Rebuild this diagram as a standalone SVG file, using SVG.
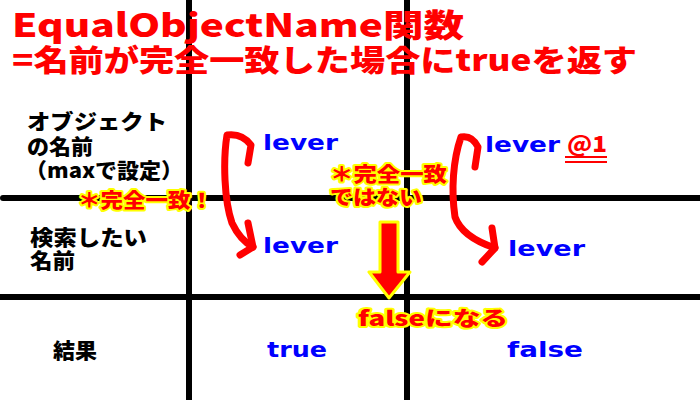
<svg xmlns="http://www.w3.org/2000/svg" width="700" height="400" viewBox="0 0 700 400">
<style>
text{font-family:"Noto Sans CJK JP","DejaVu Sans",sans-serif;font-weight:900}
.title{fill:#ff0000}
.lbl{fill:#000;font-size:21px}
.val{fill:#0000ff;font-family:"DejaVu Sans","Noto Sans CJK JP",sans-serif;font-weight:bold;font-size:22px}
.note{fill:#ff0000;stroke:#ffff00;stroke-width:4;paint-order:stroke;stroke-linejoin:round;font-size:20px}
.grid{stroke:#000;stroke-width:6;stroke-linecap:round}
.curl{fill:none;stroke:#ff0000;stroke-width:7;stroke-linecap:round;stroke-linejoin:round}
</style>
<rect width="700" height="400" fill="#fff"/>
<g id="grid">
<line class="grid" x1="189" y1="0" x2="189" y2="400"/>
<line class="grid" x1="407" y1="0" x2="407" y2="400"/>
<line class="grid" x1="3" y1="198" x2="700" y2="198"/>
<line class="grid" x1="0" y1="297" x2="700" y2="297"/>
</g>
<g id="title">
<text class="title" x="12" y="37" font-size="32" textLength="452" lengthAdjust="spacingAndGlyphs">EqualObjectName関数</text>
<text class="title" x="12" y="71" font-size="30" textLength="625" lengthAdjust="spacingAndGlyphs">=名前が完全一致した場合にtrueを返す</text>
</g>
<g id="row-labels">
<text class="lbl" x="27" y="129" textLength="140" lengthAdjust="spacingAndGlyphs">オブジェクト</text>
<text class="lbl" x="27" y="154" textLength="66" lengthAdjust="spacingAndGlyphs">の名前</text>
<text class="lbl" x="25" y="178" textLength="158" lengthAdjust="spacingAndGlyphs">（maxで設定）</text>
<text class="lbl" x="30" y="245" textLength="117" lengthAdjust="spacingAndGlyphs">検索したい</text>
<text class="lbl" x="30" y="268" textLength="45" lengthAdjust="spacingAndGlyphs">名前</text>
<text class="lbl" x="53" y="358" textLength="44" lengthAdjust="spacingAndGlyphs">結果</text>
</g>
<g id="values">
<text class="val" x="263" y="150" textLength="75" lengthAdjust="spacingAndGlyphs">lever</text>
<text class="val" x="263" y="253" textLength="75" lengthAdjust="spacingAndGlyphs">lever</text>
<text class="val" x="485" y="152" textLength="75" lengthAdjust="spacingAndGlyphs">lever</text>
<text class="val" x="508" y="256" textLength="77" lengthAdjust="spacingAndGlyphs">lever</text>
<text class="val" x="267" y="357" font-size="24" textLength="60" lengthAdjust="spacingAndGlyphs">true</text>
<text class="val" x="507" y="357" font-size="24" textLength="76" lengthAdjust="spacingAndGlyphs">false</text>
</g>
<g id="suffix">
<text x="567" y="152" font-size="22" fill="#ff0000" font-family="DejaVu Sans,sans-serif" font-weight="bold" textLength="40" lengthAdjust="spacingAndGlyphs">@1</text>
<line x1="565" y1="157" x2="607" y2="157" stroke="#ff0000" stroke-width="2"/>
<line x1="565" y1="162" x2="607" y2="162" stroke="#ff0000" stroke-width="2"/>
</g>
<g id="connectors">
<path class="curl" d="M248,163 L251,145 Q242,133 227,135 C223,160 224,200 232,223 Q240,240 253,247"/>
<path class="curl" d="M248,223 L253,247 L240,255"/>
<path class="curl" d="M475,167 L478,147 Q472,135 461,137 C453,160 451,190 455,217 Q462,237 495,248"/>
<path class="curl" d="M492,228 L495,248 L482,262"/>
<polygon points="380,222 398,222 398,272 410,272 389,298 369,272 380,272" fill="#ff0000" stroke="#ffff00" stroke-width="3" stroke-linejoin="round"/>
</g>
<g id="notes">
<text class="note" x="78" y="208" textLength="135" lengthAdjust="spacingAndGlyphs">＊完全一致！</text>
<text class="note" x="330" y="182" textLength="117" lengthAdjust="spacingAndGlyphs">＊完全一致</text>
<text class="note" x="330" y="205" textLength="92" lengthAdjust="spacingAndGlyphs">ではない</text>
<text class="note" x="358" y="326" font-size="22" textLength="150" lengthAdjust="spacingAndGlyphs">falseになる</text>
</g>
</svg>
